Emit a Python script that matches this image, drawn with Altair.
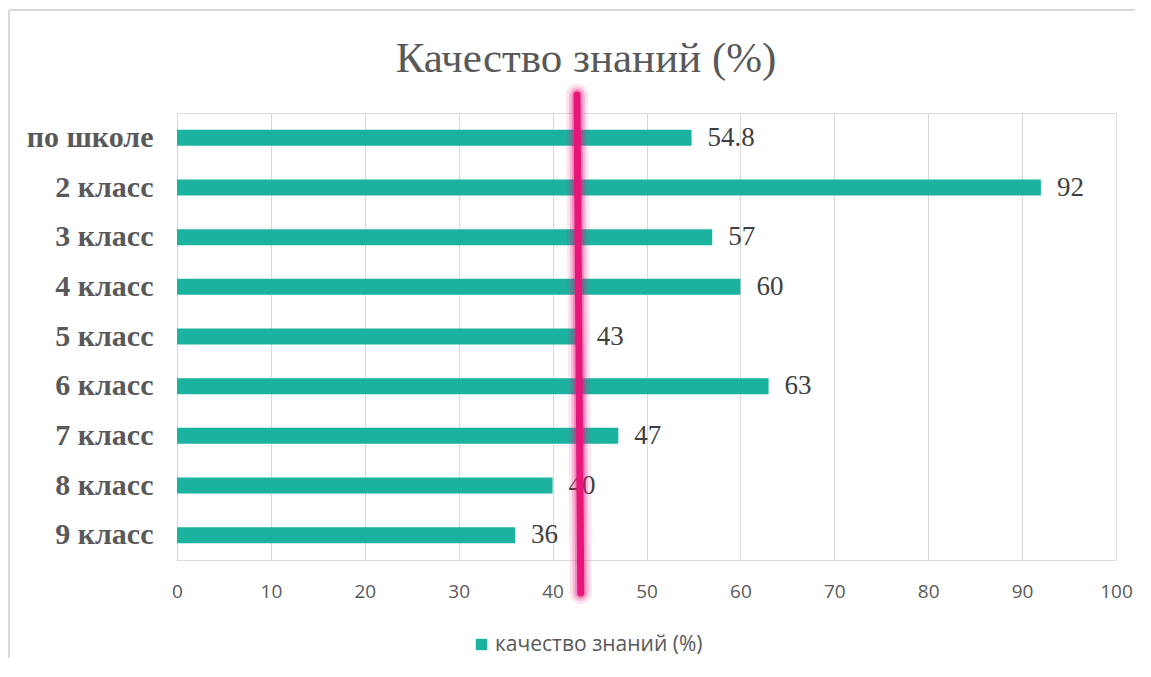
import altair as alt
import pandas as pd

categories = ["по школе", "2 класс", "3 класс", "4 класс", "5 класс", "6 класс", "7 класс", "8 класс", "9 класс"]
values = [54.8, 92, 57, 60, 43, 63, 47, 40, 36]
series_name = "качество знаний (%)"
title_text = "Качество знаний (%)"
x_ticks = [0, 10, 20, 30, 40, 50, 60, 70, 80, 90, 100]
marker_top = 42.6
marker_bottom = 43.0

TEAL = "#1BB3A0"
PINK = "#E8157A"
W, H = 939, 447

df = pd.DataFrame({"cat": categories, "value": values, "series": [series_name] * len(categories)})
line_df = pd.DataFrame({"x1": [marker_top], "x2": [marker_bottom]})
title_df = pd.DataFrame({"t": [title_text]})

x_scale = alt.Scale(domain=[0, 100], nice=False)
y_enc = alt.Y("cat:N", sort=categories, title=None,
              scale=alt.Scale(paddingInner=0, paddingOuter=0),
              axis=alt.Axis(labelFont="Liberation Serif", labelFontWeight="bold", labelFontSize=30,
                            labelColor="#595959", labelPadding=24, ticks=False, labelLimit=300,
                            domainColor="#d9d9d9", grid=False))
x_enc = alt.X("value:Q", scale=x_scale, title=None,
              axis=alt.Axis(values=x_ticks, labelFont="Open Sans", labelFontSize=19, labelColor="#595959",
                            labelPadding=22, ticks=False, domain=False, grid=True, labelFlush=False,
                            gridColor="#d9d9d9", gridWidth=1))

bars = alt.Chart(df).mark_bar(size=16).encode(
    x=x_enc, y=y_enc,
    color=alt.Color("series:N", scale=alt.Scale(range=[TEAL]), title=None,
                    legend=alt.Legend(orient="none", legendX=294, legendY=521, symbolType="square",
                                      symbolSize=130, symbolStrokeWidth=0, labelFont="Open Sans",
                                      labelFontSize=21, labelColor="#595959", labelOffset=3,
                                      labelLimit=0)),
)

labels = alt.Chart(df).mark_text(align="left", baseline="middle", dx=16, font="Liberation Serif",
                                 fontSize=27, color="#404040").encode(
    x=alt.X("value:Q", scale=x_scale), y=alt.Y("cat:N", sort=categories),
    text=alt.Text("value:Q"))

def rule_layer(width, opacity):
    return alt.Chart(line_df).mark_rule(color=PINK, strokeWidth=width, opacity=opacity,
                                        strokeCap="round").encode(
        x=alt.X("x1:Q", scale=x_scale), x2="x2:Q",
        y=alt.value(-18), y2=alt.value(480))

glow = rule_layer(22, 0.12) + rule_layer(16, 0.2) + rule_layer(11, 0.3)
pink_line = rule_layer(7, 1.0)

title = alt.Chart(title_df).mark_text(font="Liberation Serif", fontSize=43, color="#595959",
                                      align="center", baseline="alphabetic").encode(
    text="t:N", x=alt.value(409), y=alt.value(-41))

frame = alt.Chart(title_df).mark_rule(color="#d9d9d9", strokeWidth=2).encode(
    x=alt.value(-168), x2=alt.value(-168), y=alt.value(-103), y2=alt.value(560))
frame_top = alt.Chart(title_df).mark_rule(color="#d9d9d9", strokeWidth=2).encode(
    x=alt.value(-168), x2=alt.value(958), y=alt.value(-103), y2=alt.value(-103))

chart = alt.layer(frame, frame_top, title, bars, labels, glow, pink_line).properties(
    width=W, height=H,
    autosize=alt.AutoSizeParams(type="none"),
    padding={"left": 169, "top": 105, "right": 20, "bottom": 98},
).configure_view(stroke=None).configure(background="white")

chart.save("out.html", embed_options={"renderer": "svg", "actions": False})
